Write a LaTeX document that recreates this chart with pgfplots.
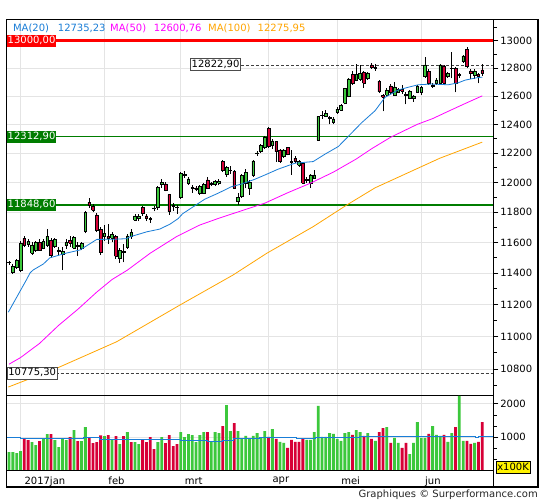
\documentclass[border=0pt]{standalone}
\usepackage{pgfplots}
\pgfplotsset{compat=1.18}
\usepackage{pgfplotstable}
\usepackage{fontspec}
\setmainfont{DejaVu Sans}
\definecolor{cgreen}{RGB}{60,200,60}
\definecolor{cred}{RGB}{215,0,55}
\definecolor{mablue}{RGB}{25,125,215}
\definecolor{mamag}{RGB}{255,0,255}
\definecolor{maorange}{RGB}{255,165,0}
\definecolor{lvlgreen}{RGB}{0,125,0}
\definecolor{gridc}{RGB}{228,228,228}

\pgfplotstableread{
i lo hi L H
-3 11468 11470 11455 11482
-2 11404 11447 11395 11462
-1 11440 11481 11428 11490
0 11417 11595 11408 11610
2 11588 11606 11572 11625
3 11530 11584 11520 11600
4 11547 11600 11540 11612
6 11565 11608 11555 11622
7 11580 11638 11570 11690
9 11573 11620 11565 11632
10 11545 11551 11520 11570
11 11522 11540 11420 11570
12 11580 11598 11560 11620
14 11562 11633 11555 11645
15 11576 11580 11510 11600
16 11562 11594 11550 11605
17 11672 11800 11660 11810
22 11640 11659 11610 11712
24 11630 11651 11600 11670
26 11495 11549 11468 11562
27 11535 11543 11470 11590
28 11570 11643 11560 11655
29 11640 11666 11625 11690
30 11748 11775 11740 11790
31 11762 11771 11740 11790
34 11750 11757 11730 11770
35 11824 11828 11805 11840
36 11830 11967 11815 11975
37 11990 12000 11965 12025
40 11840 11844 11810 11860
41 11830 11835 11790 11850
42 11900 12062 11890 12070
44 11997 12024 11985 12035
45 11961 11964 11930 11984
47 11924 11973 11915 11985
48 11929 11984 11920 11995
50 11988 11991 11975 12000
51 11985 12005 11975 12015
52 11997 12009 11980 12020
54 12052 12102 12040 12110
55 12080 12083 12060 12110
57 11870 11900 11850 11930
58 11904 12045 11895 12055
59 11997 12070 11960 12090
60 11960 12000 11917 12015
61 12051 12147 12040 12155
62 12197 12201 12180 12215
63 12210 12256 12200 12262
64 12238 12307 12230 12315
66 12251 12284 12230 12300
69 12176 12222 12165 12230
73 12119 12142 12105 12150
76 11997 12051 11963 12060
77 12030 12051 12025 12085
78 12291 12456 12285 12460
79 12460 12465 12440 12490
80 12456 12475 12450 12500
82 12414 12438 12400 12450
83 12485 12506 12475 12520
84 12501 12532 12495 12545
85 12549 12651 12540 12660
86 12595 12722 12590 12730
88 12715 12756 12705 12830
89 12720 12760 12710 12820
91 12725 12765 12715 12775
93 12800 12804 12780 12830
96 12608 12643 12600 12655
98 12608 12665 12600 12700
99 12629 12648 12620 12660
102 12586 12636 12575 12645
103 12586 12600 12560 12608
104 12629 12672 12620 12680
105 12625 12662 12610 12675
106 12739 12823 12730 12879
109 12688 12715 12680 12725
110 12692 12823 12685 12830
112 12739 12763 12730 12770
113 12795 12800 12726 12920
115 12748 12753 12730 12765
116 12846 12888 12840 12895
119 12750 12780 12720 12795
}\upc

\pgfplotstableread{
i lo hi L H
1 11580 11627 11568 11640
5 11551 11602 11545 11620
8 11513 11616 11500 11630
13 11597 11615 11570 11640
18 11848 11865 11830 11893
19 11814 11840 11798 11852
20 11681 11782 11668 11792
21 11535 11687 11518 11700
23 11627 11640 11590 11720
25 11509 11640 11495 11652
32 11790 11830 11775 11840
33 11757 11775 11740 11785
38 11948 11990 11940 12000
39 11804 11917 11782 11925
43 12045 12055 12030 12075
46 11952 11963 11940 11975
49 11963 12017 11955 12035
53 12083 12142 12070 12150
56 11963 12074 11955 12085
65 12244 12373 12235 12380
67 12210 12279 12142 12285
68 12142 12222 12135 12228
70 12193 12238 12185 12245
71 12139 12145 12051 12222
72 12142 12165 12130 12180
74 11997 12131 11990 12140
75 12016 12020 11997 12040
81 12440 12446 12400 12460
87 12692 12756 12680 12780
90 12692 12770 12660 12780
92 12806 12823 12795 12835
94 12631 12706 12620 12715
95 12590 12605 12490 12612
97 12625 12672 12615 12685
100 12636 12645 12615 12680
101 12602 12610 12540 12630
107 12688 12777 12680 12790
108 12670 12675 12660 12690
111 12692 12816 12685 12825
114 12692 12798 12625 12805
117 12810 12937 12800 12951
118 12765 12780 12720 12790
120 12739 12752 12690 12765
121 12765 12787 12745 12830
}\dnc

\pgfplotstableread{
i v
-3 555
-2 555
-1 525
0 585
3 855
4 765
6 955
7 1095
9 915
10 705
11 955
12 915
14 1215
16 885
17 1305
22 1035
24 915
26 795
28 1155
30 855
31 795
36 855
37 1005
42 1155
43 1005
44 1095
45 1065
46 855
47 1065
48 1155
50 855
51 1155
52 1125
54 1965
55 1185
57 1185
58 975
59 1036
60 956
61 1036
62 1126
63 976
64 1186
66 1246
68 856
69 826
75 916
76 916
77 1156
78 1937
79 1006
80 1006
81 1126
82 1096
83 946
84 886
85 1126
86 1156
88 1216
89 1156
91 1126
93 886
96 1306
98 976
99 826
102 495
103 826
104 1456
105 976
106 976
108 1336
109 1066
110 1036
112 856
113 1126
115 2240
116 886
119 826
}\volup

\pgfplotstableread{
i v
1 955
2 915
5 885
8 1095
13 1005
15 885
18 985
19 825
20 855
21 1055
23 1065
25 1035
27 1035
29 855
32 915
33 855
34 1005
35 645
38 825
39 1065
40 735
41 795
49 1155
53 1335
56 1425
65 1006
67 946
70 676
71 916
72 856
73 856
74 946
87 1066
90 1036
92 946
94 1156
95 1276
97 826
100 676
101 826
107 1096
111 1066
114 1306
117 886
118 796
120 856
121 1456
}\voldn

% draws one candle (wick + body) per row of a table
\newcommand\drawcandles[2]{%
  \pgfplotstablegetrowsof{#1}%
  \pgfmathtruncatemacro{\nrows}{\pgfplotsretval-1}%
  \pgfplotsforeachungrouped \rr in {0,...,\nrows}{%
    \pgfplotstablegetelem{\rr}{i}\of{#1}\let\cci\pgfplotsretval
    \pgfplotstablegetelem{\rr}{lo}\of{#1}\let\cLo\pgfplotsretval
    \pgfplotstablegetelem{\rr}{hi}\of{#1}\let\cHi\pgfplotsretval
    \pgfplotstablegetelem{\rr}{L}\of{#1}\let\cLw\pgfplotsretval
    \pgfplotstablegetelem{\rr}{H}\of{#1}\let\cHg\pgfplotsretval
    \pgfmathsetmacro\xa{\cci-0.35}%
    \pgfmathsetmacro\xb{\cci+0.35}%
    \edef\tmp{\noexpand\addplot[forget plot, black, line width=0.9pt] coordinates {(\cci,\cLw) (\cci,\cHg)};%
      \noexpand\addplot[forget plot, fill=#2, draw=black, line width=0.6pt] coordinates {(\xa,\cLo) (\xb,\cLo) (\xb,\cHi) (\xa,\cHi) (\xa,\cLo)};}%
    \tmp
  }%
}

\begin{document}
\begin{tikzpicture}[font=\fontsize{10}{12}\selectfont]
\path[use as bounding box] (0pt,0pt) rectangle (545pt,500pt);
\fill[white] (0pt,0pt) rectangle (545pt,500pt);

\begin{axis}[
  at={(6.7pt,104.5pt)}, anchor=south west, scale only axis,
  width=486.6pt, height=376pt,
  y coord trafo/.code={\pgfmathparse{ln(#1)}},
  y coord inv trafo/.code={\pgfmathparse{exp(#1)}},
  xmin=-3.62, xmax=123.9, ymin=10640, ymax=13157,
  axis line style={line width=1pt, black},
  xtick={0,22,42,65,83,105}, xticklabels={}, xtick style={draw=none},
  ytick={10800,11000,11200,11400,11600,11800,12000,12200,12400,12600,12800,13000},
  yticklabels={10800,11000,11200,11400,11600,11800,12000,12200,12400,12600,12800,13000},
  minor ytick={10700,10900,11100,11300,11500,11700,11900,12100,12300,12500,12700,12900,13100},
  ytick pos=right, yticklabel pos=right, tick align=outside,
  major tick length=5pt, minor tick length=3.5pt,
  tick style={black, line width=0.8pt},
  yticklabel style={font=\fontsize{10}{12}\selectfont, black, xshift=-1.5pt},
  grid=major, grid style={gridc, line width=0.8pt},
]
% level lines
\addplot[red, line width=2.2pt, forget plot] coordinates {(-3.62,13000) (123.9,13000)};
\addplot[black!75, line width=0.7pt, dash pattern=on 3pt off 2pt, forget plot] coordinates {(57.8,12822.9) (123.9,12822.9)};
\addplot[lvlgreen, line width=0.9pt, forget plot] coordinates {(-3.62,12312.9) (123.9,12312.9)};
\addplot[lvlgreen, line width=2.2pt, forget plot] coordinates {(-3.62,11848.6) (123.9,11848.6)};
\addplot[black!75, line width=0.7pt, dash pattern=on 3pt off 2pt, forget plot] coordinates {(9.2,10775.3) (123.9,10775.3)};

% candles
\drawcandles{\upc}{cgreen}
\drawcandles{\dnc}{cred}

% moving averages
\addplot[maorange, line width=0.8pt, forget plot] coordinates {
(-3.2,10691) (9.5,10805) (25.2,10968) (41.8,11198) (55.7,11389) (64.5,11529)
(76.7,11704) (85.5,11848) (92.9,11963) (109.9,12165) (121,12276)};
\addplot[mamag, line width=0.8pt, forget plot] coordinates {
(-3,10830) (0,10870) (5,10958) (10,11070) (15,11170) (20,11280) (24,11360)
(28,11420) (34,11530) (41,11640) (47,11715) (52,11760) (58,11810) (64,11860)
(70,11930) (76,11995) (82,12070) (88,12160) (92,12230) (97,12310) (104,12400)
(108,12440) (112,12490) (116,12540) (121,12601)};
\addplot[mablue, line width=0.8pt, forget plot] coordinates {
(-3.2,11152) (1.6,11360) (2.5,11402) (3.3,11421) (6.0,11460) (7.7,11500)
(12.1,11531) (15.6,11551) (18.2,11592) (20.0,11620) (24.3,11621) (27.8,11625)
(28.7,11637) (33.1,11670) (36.5,11688) (39.2,11721) (41.3,11757) (42.5,11790)
(44.9,11830) (48.3,11887) (51.8,11927) (55.3,11971) (58,11990) (61.4,12021)
(64.1,12051) (67.5,12090) (71.9,12131) (76.7,12142) (79.8,12193) (83.3,12246)
(85.9,12316) (89.4,12411) (92.9,12495) (95.5,12590) (99,12643) (101.6,12662)
(104.2,12680) (107.7,12685) (112.1,12680) (114.7,12694) (116.5,12713)
(119.5,12730) (121,12735)};
\end{axis}

\begin{axis}[
  at={(6.7pt,29.5pt)}, anchor=south west, scale only axis,
  width=486.6pt, height=75pt,
  xmin=-3.62, xmax=123.9, ymin=0, ymax=2252,
  axis line style={line width=1pt, black},
  xtick={0,22,42,65,83,105}, xticklabels={2017jan,feb,mrt,apr,mei,jun},
  xtick style={draw=none},
  xticklabel style={anchor=north west, xshift=0.5pt, yshift=2pt, font=\fontsize{10}{12}\selectfont, black},
  ytick={1000,2000}, yticklabels={1000,2000},
  minor ytick={333,667,1333,1667},
  ytick pos=right, yticklabel pos=right, tick align=outside,
  major tick length=5pt, minor tick length=3.5pt,
  tick style={black, line width=0.8pt},
  yticklabel style={font=\fontsize{10}{12}\selectfont, black, xshift=-1.5pt},
  grid=major, grid style={gridc, line width=0.8pt},
]
\addplot[ybar, bar width=2.8pt, bar shift=0pt, fill=cgreen, draw=none, forget plot] table[x=i, y=v] {\volup};
\addplot[ybar, bar width=2.8pt, bar shift=0pt, fill=cred, draw=none, forget plot] table[x=i, y=v] {\voldn};
\addplot[const plot, mablue, line width=0.9pt, mark=none, forget plot] coordinates {
(-3.62,1006) (0,956) (16.4,1006) (20.8,936) (41.8,906) (48.9,866) (52.8,906)
(55.7,950) (62.7,1006) (72.4,966) (77.2,1006) (88.9,1026) (119.1,986) (119.9,1026) (123.9,1026)};
\end{axis}

% level labels (text annotations)
\begin{scope}[every node/.style={inner xsep=0.8pt, inner ysep=1.2pt, text height=7.5pt, text depth=1.8pt}]
\node[anchor=west, fill=red, text=white] at (6.7pt,459.3pt) {13000,00};
\node[anchor=east, fill=white, draw=black!70, line width=0.7pt, inner xsep=1.2pt] at (241pt,435.3pt) {12822,90};
\node[anchor=west, fill=lvlgreen, text=white] at (6.7pt,363.1pt) {12312,90};
\node[anchor=west, fill=lvlgreen, text=white] at (6.7pt,295.1pt) {11848,60};
\node[anchor=west, fill=white, draw=black!70, line width=0.7pt] at (7.2pt,126.9pt) {10775,30};
\end{scope}

% frame and separators
\draw[line width=1.2pt] (6.7pt,13pt) rectangle (538pt,480.5pt);
\draw[line width=1.6pt] (6.7pt,29.5pt) -- (493.3pt,29.5pt);
\draw[line width=1pt] (493.3pt,13pt) -- (493.3pt,29.5pt);

% legend
\node[anchor=base west, inner sep=0, text=mablue] at (12.9pt,468.5pt) {MA(20)};
\node[anchor=base west, inner sep=0, text=mablue] at (57.7pt,468.5pt) {12735,23};
\node[anchor=base west, inner sep=0, text=mamag] at (110pt,468.5pt) {MA(50)};
\node[anchor=base west, inner sep=0, text=mamag] at (153.7pt,468.5pt) {12600,76};
\node[anchor=base west, inner sep=0, text=maorange] at (208pt,468.5pt) {MA(100)};
\node[anchor=base west, inner sep=0, text=maorange] at (257.5pt,468.5pt) {12275,95};

% volume unit box
\node[anchor=west, fill=yellow, draw=black, line width=0.6pt, inner xsep=1pt, inner ysep=2pt, text height=7.3pt, text depth=0.5pt] at (496pt,32.7pt) {x100K};

% footer
\node[anchor=base east, inner sep=0, text=black!85] at (538pt,3pt) {Graphiques © Surperformance.com};
\end{tikzpicture}
\end{document}
